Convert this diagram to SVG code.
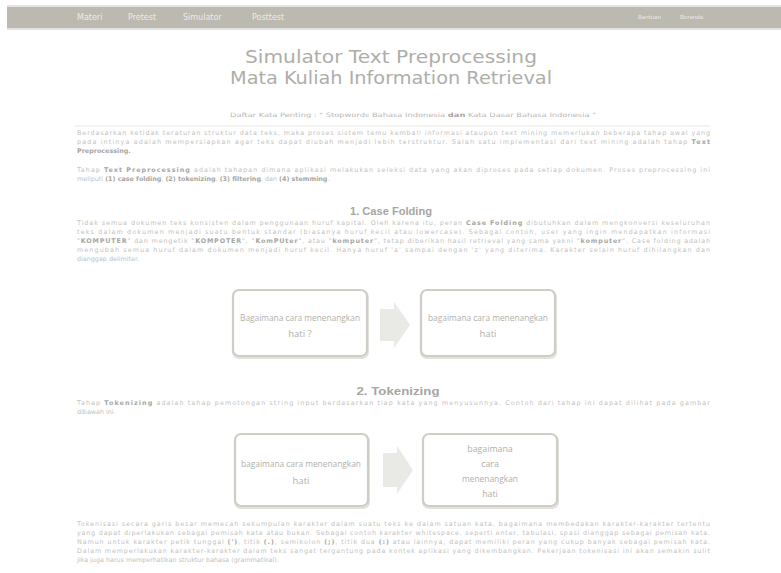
<svg xmlns="http://www.w3.org/2000/svg" width="781" height="573" viewBox="0 0 781 573">
<defs>
<style>
.nav{font-family:"DejaVu Sans",Verdana,sans-serif;font-size:8px;fill:#ecebe7}
.navs{font-family:"DejaVu Sans",Verdana,sans-serif;font-size:5.5px;fill:#ecebe7}
.title{font-family:"DejaVu Sans",Verdana,sans-serif;font-size:17px;fill:#aeaea9;text-anchor:middle}
.sub{font-family:"DejaVu Sans",Verdana,sans-serif;font-size:6px;fill:#b8b8b4;text-anchor:middle}
.p{font-family:"DejaVu Sans",Verdana,sans-serif;font-size:6.4px;fill:#c2c2be}
.b{font-weight:bold;fill:#a6a6a2}
.h{font-family:"Liberation Sans",Arial,sans-serif;font-size:11px;font-weight:bold;fill:#a6a6a2;text-anchor:middle}
.box{fill:#ffffff;stroke:#cfcdc6;stroke-width:2.2}
.shadow{fill:none;stroke:#e2e1dc;stroke-width:2}
.bt{font-family:"Open Sans","Liberation Sans",sans-serif;font-size:9.5px;fill:#b0b0ab;text-anchor:middle}
.bt2{font-family:"Open Sans","Liberation Sans",sans-serif;font-size:8.8px;fill:#b0b0ab;text-anchor:middle}
.arrow{fill:#e9e9e5}
</style>
</defs>
<rect x="0" y="0" width="781" height="573" fill="#ffffff"/>

<g id="navbar">
<rect x="7" y="5" width="774" height="25" fill="#e4e3df"/>
<rect x="7" y="7" width="774" height="21" fill="#bcb9b1"/>
<text class="nav" x="77" y="20">Materi</text>
<text class="nav" x="128" y="20">Pretest</text>
<text class="nav" x="183" y="20">Simulator</text>
<text class="nav" x="252" y="20">Posttest</text>
<text class="navs" x="638" y="19">Bantuan</text>
<text class="navs" x="680" y="19">Beranda</text>
</g>

<g id="header">
<text class="title" x="391" y="63" textLength="292" lengthAdjust="spacingAndGlyphs">Simulator Text Preprocessing</text>
<text class="title" x="391" y="84" textLength="322" lengthAdjust="spacingAndGlyphs">Mata Kuliah Information Retrieval</text>
<text class="sub" x="413" y="117" textLength="366" lengthAdjust="spacingAndGlyphs">Daftar Kata Penting : " Stopwords Bahasa Indonesia <tspan class="b">dan</tspan> Kata Dasar Bahasa Indonesia "</text>
<line x1="75" y1="126" x2="710" y2="126" stroke="#e6e6e2" stroke-width="1"/>
</g>

<g id="intro">
<text class="p" x="77" y="135" textLength="633" lengthAdjust="spacing">Berdasarkan ketidak teraturan struktur data teks, maka proses sistem temu kembali informasi ataupun text mining memerlukan beberapa tahap awal yang</text>
<text class="p" x="77" y="144" textLength="633" lengthAdjust="spacing">pada intinya adalah mempersiapkan agar teks dapat diubah menjadi lebih terstruktur. Salah satu implementasi dari text mining adalah tahap <tspan class="b">Text</tspan></text>
<text class="p b" x="77" y="153">Preprocessing.</text>
<text class="p" x="77" y="172" textLength="633" lengthAdjust="spacing">Tahap <tspan class="b">Text Preprocessing</tspan> adalah tahapan dimana aplikasi melakukan seleksi data yang akan diproses pada setiap dokumen. Proses preprocessing ini</text>
<text class="p" x="77" y="181">meliputi <tspan class="b">(1) case folding</tspan>, <tspan class="b">(2) tokenizing</tspan>, <tspan class="b">(3) filtering</tspan>, dan <tspan class="b">(4) stemming</tspan>.</text>
</g>

<g id="case-folding">
<text class="h" x="391" y="215" textLength="82" lengthAdjust="spacingAndGlyphs">1. Case Folding</text>
<text class="p" x="77" y="225" textLength="633" lengthAdjust="spacing">Tidak semua dokumen teks konsisten dalam penggunaan huruf kapital. Oleh karena itu, peran <tspan class="b">Case Folding</tspan> dibutuhkan dalam mengkonversi keseluruhan</text>
<text class="p" x="77" y="234" textLength="633" lengthAdjust="spacing">teks dalam dokumen menjadi suatu bentuk standar (biasanya huruf kecil atau lowercase). Sebagai contoh, user yang ingin mendapatkan informasi</text>
<text class="p" x="77" y="243" textLength="633" lengthAdjust="spacing">"<tspan class="b">KOMPUTER</tspan>" dan mengetik "<tspan class="b">KOMPOTER</tspan>", "<tspan class="b">KomPUter</tspan>", atau "<tspan class="b">komputer</tspan>", tetap diberikan hasil retrieval yang sama yakni "<tspan class="b">komputer</tspan>". Case folding adalah</text>
<text class="p" x="77" y="252" textLength="633" lengthAdjust="spacing">mengubah semua huruf dalam dokumen menjadi huruf kecil. Hanya huruf 'a' sampai dengan 'z' yang diterima. Karakter selain huruf dihilangkan dan</text>
<text class="p" x="77" y="261">dianggap delimiter.</text>
</g>

<g id="cf-input">
<rect class="shadow" x="233" y="291" width="135" height="67" rx="6"/>
<rect class="box" x="233" y="290" width="134" height="66" rx="6"/>
<text class="bt" x="300" y="321" textLength="120" lengthAdjust="spacingAndGlyphs">Bagaimana cara menenangkan</text>
<text class="bt" x="300" y="337">hati ?</text>
</g>

<g id="cf-output">
<rect class="shadow" x="421" y="291" width="135" height="67" rx="6"/>
<rect class="box" x="421" y="290" width="134" height="66" rx="6"/>
<text class="bt" x="488" y="321" textLength="120" lengthAdjust="spacingAndGlyphs">bagaimana cara menenangkan</text>
<text class="bt" x="488" y="337">hati</text>
</g>

<g id="tokenizing">
<text class="h" x="398" y="395" textLength="83" lengthAdjust="spacingAndGlyphs">2. Tokenizing</text>
<text class="p" x="77" y="405" textLength="633" lengthAdjust="spacing">Tahap <tspan class="b">Tokenizing</tspan> adalah tahap pemotongan string input berdasarkan tiap kata yang menyusunnya. Contoh dari tahap ini dapat dilihat pada gambar</text>
<text class="p" x="77" y="414">dibawah ini.</text>
</g>

<g id="tk-input">
<rect class="shadow" x="235" y="435" width="134" height="73" rx="6"/>
<rect class="box" x="235" y="434" width="133" height="72" rx="6"/>
<text class="bt" x="301" y="467" textLength="120" lengthAdjust="spacingAndGlyphs">bagaimana cara menenangkan</text>
<text class="bt" x="301" y="484">hati</text>
</g>

<g id="tk-output">
<rect class="shadow" x="423" y="435" width="135" height="73" rx="6"/>
<rect class="box" x="423" y="434" width="134" height="72" rx="6"/>
<text class="bt2" x="490" y="452">bagaimana</text>
<text class="bt2" x="490" y="467">cara</text>
<text class="bt2" x="490" y="482" textLength="56" lengthAdjust="spacingAndGlyphs">menenangkan</text>
<text class="bt2" x="490" y="497">hati</text>
</g>

<g id="connectors">
<polygon class="arrow" points="380,309 394,309 394,302 410,325 394,348 394,341 380,341"/>
<polygon class="arrow" points="383,453 397,453 397,446 413,470 397,494 397,487 383,487"/>
</g>

<g id="tokenisasi">
<text class="p" x="77" y="526" textLength="633" lengthAdjust="spacing">Tokenisasi secara garis besar memecah sekumpulan karakter dalam suatu teks ke dalam satuan kata, bagaimana membedakan karakter-karakter tertentu</text>
<text class="p" x="77" y="535" textLength="633" lengthAdjust="spacing">yang dapat diperlakukan sebagai pemisah kata atau bukan. Sebagai contoh karakter whitespace, seperti enter, tabulasi, spasi dianggap sebagai pemisah kata.</text>
<text class="p" x="77" y="544" textLength="633" lengthAdjust="spacing">Namun untuk karakter petik tunggal <tspan class="b">(')</tspan>, titik <tspan class="b">(.)</tspan>, semikolon <tspan class="b">(;)</tspan>, titik dua <tspan class="b">(:)</tspan> atau lainnya, dapat memiliki peran yang cukup banyak sebagai pemisah kata.</text>
<text class="p" x="77" y="553" textLength="633" lengthAdjust="spacing">Dalam memperlakukan karakter-karakter dalam teks sangat tergantung pada kontek aplikasi yang dikembangkan. Pekerjaan tokenisasi ini akan semakin sulit</text>
<text class="p" x="77" y="562">jika juga harus memperhatikan struktur bahasa (grammatikal).</text>
</g>
</svg>
